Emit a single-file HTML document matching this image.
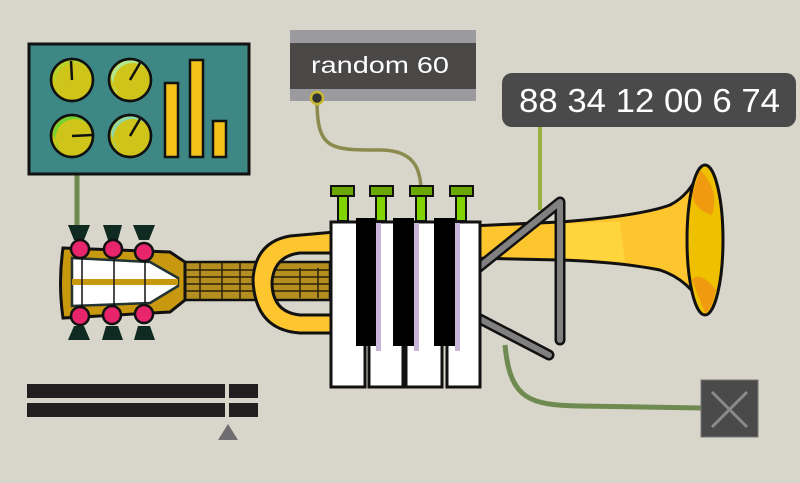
<!DOCTYPE html>
<html><head><style>body{margin:0;background:#d8d5ca}svg{display:block}</style></head><body>
<svg width="800" height="483" viewBox="0 0 800 483" xmlns="http://www.w3.org/2000/svg">
<rect width="800" height="483" fill="#d8d5ca"/>
<!-- cables -->
<path d="M77 174 L77 232" stroke="#6f8a50" stroke-width="5" fill="none"/>
<path d="M317 100 C317 150 330 150 380 150 C415 150 421 170 421 192" stroke="#8c8b4e" stroke-width="3.5" fill="none"/>
<path d="M540 127 L540 210" stroke="#9bb040" stroke-width="4" fill="none"/>
<path d="M505 345 C510 400 530 405 580 406 L702 408" stroke="#6f8a50" stroke-width="5" fill="none"/>
<!-- panel -->
<rect x="29" y="44" width="220" height="130" fill="#3d8784" stroke="#111" stroke-width="3"/>
<g stroke="#111" stroke-width="2.5">
<circle cx="72" cy="80" r="21" fill="#cfc41a"/><circle cx="130" cy="80" r="21" fill="#cfc41a"/>
<circle cx="72" cy="136" r="21" fill="#cfc41a"/><circle cx="130" cy="136" r="21" fill="#cfc41a"/>
</g>
<path d="M53 78 A20 20 0 0 1 90 70 A18 18 0 0 0 60 95 Z" fill="#b8d42a"/>
<path d="M111 78 A20 20 0 0 1 148 70 A18 18 0 0 0 118 95 Z" fill="#b2e890"/>
<path d="M53 134 A20 20 0 0 1 90 126 A18 18 0 0 0 60 151 Z" fill="#74d230"/>
<path d="M111 134 A20 20 0 0 1 148 126 A18 18 0 0 0 118 151 Z" fill="#8cd8a8"/>
<g stroke="#111" stroke-width="2.5" fill="none">
<circle cx="72" cy="80" r="21"/><circle cx="130" cy="80" r="21"/><circle cx="72" cy="136" r="21"/><circle cx="130" cy="136" r="21"/>
<path d="M72 80 L71 61"/><path d="M130 80 L140 63"/><path d="M72 136 L92 135"/><path d="M130 136 L140 119"/>
</g>
<g fill="#f5c21a" stroke="#111" stroke-width="2.5">
<rect x="165" y="83" width="13" height="74"/><rect x="190" y="60" width="13" height="97"/><rect x="213" y="121" width="13" height="36"/>
</g>
<!-- random 60 -->
<rect x="290" y="30" width="186" height="71" fill="#9b9a9f"/>
<rect x="290" y="43" width="186" height="46" fill="#4a4747"/>
<text x="311" y="73" font-family="Liberation Sans, sans-serif" font-size="23" fill="#fff" textLength="138" lengthAdjust="spacingAndGlyphs">random 60</text>
<circle cx="317" cy="98" r="6" fill="#333" stroke="#c8b830" stroke-width="2.5"/>
<!-- number box -->
<rect x="502" y="73" width="294" height="54" rx="10" fill="#4a4a4a"/>
<text x="519" y="112" font-family="Liberation Sans, sans-serif" font-size="33" fill="#fff" textLength="261" lengthAdjust="spacingAndGlyphs">88 34 12 00 6 74</text>
<!-- guitar neck -->
<rect x="180" y="262" width="150" height="38" fill="#b48f20" stroke="#111" stroke-width="2.5"/>
<g stroke="#2a2008" stroke-width="1.5">
<path d="M180 270H330M180 277H330M180 284H330M180 291H330"/>
<path d="M200 262V300M222 262V300M240 262V300M258 262V300M300 268V298M318 268V298"/>
</g>
<!-- headstock -->
<path d="M63 248 L170 252 L185 262 L185 300 L170 312 L63 318 Q58 283 63 248Z" fill="#c8980e" stroke="#111" stroke-width="3"/>
<path d="M72 258 L150 262 L178 278 L178 286 L150 303 L72 306 Z" fill="#fff" stroke="#233" stroke-width="2.5"/>
<path d="M72 282 H178" stroke="#c8980e" stroke-width="6"/>
<g stroke="#111" stroke-width="1.5"><path d="M82 258V306M114 260V306M145 262V303"/></g>
<g fill="#0f2a20">
<path d="M68 225 L90 225 L84 240 L74 240Z"/><path d="M103 225 L122 225 L118 240 L108 240Z"/><path d="M133 225 L155 225 L149 240 L139 240Z"/>
<path d="M74 326 L84 326 L90 340 L68 340Z"/><path d="M106 326 L118 326 L123 340 L102 340Z"/><path d="M138 326 L150 326 L155 340 L134 340Z"/>
</g>
<g fill="#e8246a" stroke="#111" stroke-width="2.5">
<circle cx="80" cy="249" r="9"/><circle cx="113" cy="249" r="9"/><circle cx="144" cy="252" r="9"/>
<circle cx="80" cy="316" r="9"/><circle cx="112" cy="315" r="9"/><circle cx="144" cy="314" r="9"/>
</g>
<!-- trumpet loop -->
<path d="M335 232 L290 236 Q255 242 253 280 Q255 330 300 333 L335 333 L335 315 L300 315 Q272 312 272 282 Q274 256 300 253 L335 253Z" fill="#fec62e" stroke="#111" stroke-width="3"/>
<!-- tube and bell -->
<path d="M470 226 L560 222 Q640 216 670 205 Q690 195 700 170 L705 310 Q690 280 660 270 Q620 262 560 260 L470 258Z" fill="#fec62e" stroke="#111" stroke-width="3"/>
<path d="M565 224 Q600 222 620 222 L625 262 Q600 260 565 258Z" fill="#ffe04a" opacity="0.6"/>
<ellipse cx="705" cy="240" rx="18" ry="75" fill="#eec000" stroke="#111" stroke-width="3"/>
<path d="M700 170 Q720 190 712 215 Q695 210 692 195Z" fill="#f09a10"/>
<path d="M692 280 Q700 270 716 290 Q712 310 705 313Z" fill="#f09a10"/>
<!-- stand -->
<g stroke="#111" stroke-width="11" stroke-linecap="round" stroke-linejoin="round" fill="none">
<path d="M478 268 L560 202 L560 340"/><path d="M478 318 L549 355"/></g>
<g stroke="#808080" stroke-width="6" stroke-linecap="round" stroke-linejoin="round" fill="none">
<path d="M478 268 L560 202 L560 340"/><path d="M478 318 L549 355"/></g>
<!-- valves -->
<g stroke="#111" stroke-width="2">
<rect x="338" y="193" width="10" height="28" fill="#7fd400"/><rect x="376" y="193" width="10" height="28" fill="#7fd400"/>
<rect x="416" y="193" width="10" height="28" fill="#7fd400"/><rect x="456" y="193" width="10" height="28" fill="#7fd400"/>
<rect x="331" y="186" width="23" height="10" fill="#6aa800"/><rect x="370" y="186" width="23" height="10" fill="#6aa800"/>
<rect x="410" y="186" width="23" height="10" fill="#6aa800"/><rect x="450" y="186" width="23" height="10" fill="#6aa800"/>
</g>
<!-- keys -->
<g fill="#fff" stroke="#111" stroke-width="3">
<rect x="331" y="222" width="34" height="165"/><rect x="369" y="222" width="34" height="165"/>
<rect x="406" y="222" width="36" height="165"/><rect x="447" y="222" width="33" height="165"/>
</g>
<g fill="#c8b4d8"><rect x="376" y="223" width="5" height="128"/><rect x="414" y="223" width="5" height="128"/><rect x="455" y="223" width="5" height="128"/></g>
<g fill="#000"><rect x="356" y="218" width="20" height="128"/><rect x="393" y="218" width="21" height="128"/><rect x="434" y="218" width="21" height="128"/></g>
<!-- bottom left slider -->
<rect x="27" y="384" width="198" height="14" fill="#231f20"/><rect x="229" y="384" width="29" height="14" fill="#231f20"/>
<rect x="27" y="403" width="198" height="14" fill="#231f20"/><rect x="229" y="403" width="29" height="14" fill="#231f20"/>
<path d="M218 440 L228 424 L238 440Z" fill="#6e6e70"/>
<!-- X box -->
<rect x="701" y="380" width="57" height="57" fill="#4a4a4a" stroke="#777" stroke-width="1"/>
<path d="M712 392 L747 427 M747 392 L712 427" stroke="#8a8a8a" stroke-width="3"/>
</svg>
</body></html>
